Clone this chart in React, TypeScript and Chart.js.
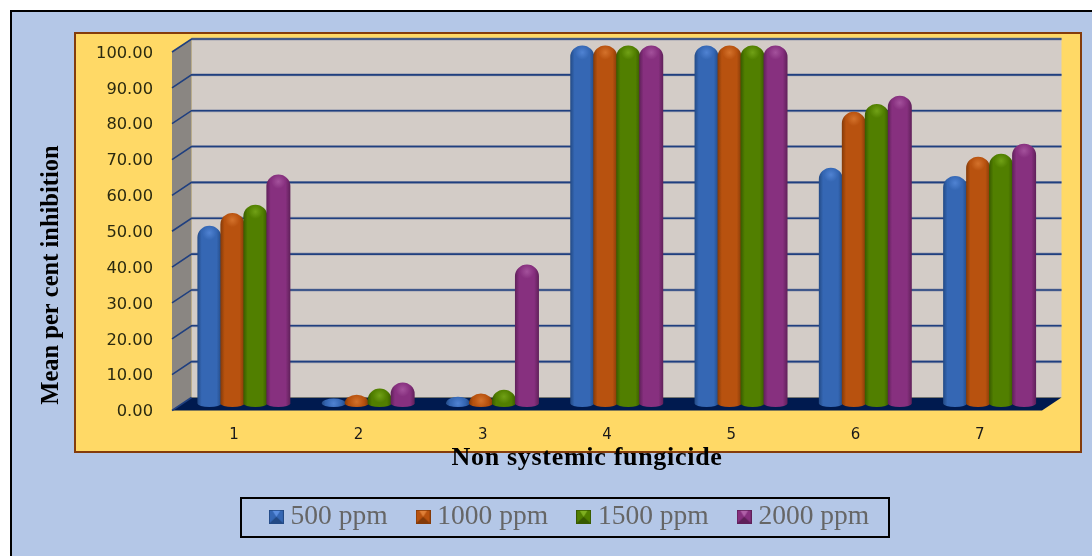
import React, { useEffect, useRef } from "react";
import { Chart, registerables } from "chart.js";

Chart.register(...registerables);

const categories = ["1", "2", "3", "4", "5", "6", "7"];
const seriesNames = ["500 ppm", "1000 ppm", "1500 ppm", "2000 ppm"];
const ppm500 = [49.7, 1.5, 2, 100, 100, 65.9, 63.6];
const ppm1000 = [53.3, 2.6, 2.9, 100, 100, 81.5, 69];
const ppm1500 = [55.6, 4.3, 4, 100, 100, 83.7, 69.8];
const ppm2000 = [64, 6, 38.9, 100, 100, 86, 72.6];
const seriesValues = [ppm500, ppm1000, ppm1500, ppm2000];
const seriesColors = ["#3567B4", "#B8520F", "#517F00", "#87307F"];
const seriesDark = ["#234A85", "#843A08", "#385A00", "#5F2059"];
const seriesLight = ["#5C8FE0", "#E08038", "#7FB020", "#B060A8"];
const yTitle = "Mean per cent inhibition";
const xTitle = "Non systemic fungicide";

const DEPTH_X = 19.5;
const DEPTH_Y = 13;
const SERIF = '"Liberation Serif", serif';

function swatch(i: number) {
  const c = document.createElement("canvas");
  c.width = 15;
  c.height = 14;
  const g = c.getContext("2d")!;
  g.fillStyle = seriesColors[i];
  g.fillRect(0, 0, 15, 14);
  g.fillStyle = seriesDark[i];
  g.beginPath();
  g.moveTo(0, 14);
  g.lineTo(7.5, 7);
  g.lineTo(15, 14);
  g.fill();
  g.fillStyle = seriesLight[i];
  g.beginPath();
  g.moveTo(3, 0);
  g.lineTo(7.5, 7);
  g.lineTo(12, 0);
  g.fill();
  g.strokeStyle = seriesDark[i];
  g.strokeRect(0.5, 0.5, 14, 13);
  return c;
}

const framePlugin = {
  id: "frame3d",
  afterLayout(chart: any) {
    const l = chart.legend;
    if (l) {
      l.left = 200;
      l.right = 945;
      l.top = 468;
      l.bottom = 537;
    }
  },
  beforeDraw(chart: any) {
    const { ctx, width, height } = chart;
    ctx.save();
    ctx.fillStyle = "#FFFFFF";
    ctx.fillRect(0, 0, width, height);
    ctx.fillStyle = "#B4C7E7";
    ctx.fillRect(11, 11, width - 11, height - 11);
    ctx.fillStyle = "#000000";
    ctx.fillRect(10, 10, width - 10, 2);
    ctx.fillRect(10, 10, 2, height - 10);
    // yellow panel
    ctx.fillStyle = "#FFD966";
    ctx.fillRect(75, 33, 1006, 419);
    ctx.strokeStyle = "#843C0C";
    ctx.lineWidth = 2;
    ctx.strokeRect(75, 33, 1006, 419);

    const y = chart.scales.y;
    const x = chart.scales.x;
    const L = x.left, R = x.right;
    const T = y.getPixelForValue(100), B = y.getPixelForValue(0);
    // back wall
    ctx.fillStyle = "#D3CCC7";
    ctx.fillRect(L + DEPTH_X, T - DEPTH_Y, R - L, B - T);
    // side wall
    ctx.fillStyle = "#8A8682";
    ctx.beginPath();
    ctx.moveTo(L, T);
    ctx.lineTo(L + DEPTH_X, T - DEPTH_Y);
    ctx.lineTo(L + DEPTH_X, B - DEPTH_Y);
    ctx.lineTo(L, B);
    ctx.closePath();
    ctx.fill();
    // floor
    ctx.fillStyle = "#001A4F";
    ctx.beginPath();
    ctx.moveTo(L, B);
    ctx.lineTo(L + DEPTH_X, B - DEPTH_Y);
    ctx.lineTo(R + DEPTH_X, B - DEPTH_Y);
    ctx.lineTo(R, B);
    ctx.closePath();
    ctx.fill();
    // grid lines
    for (const t of y.ticks) {
      const p = y.getPixelForValue(t.value);
      if (t.value > 0) {
        ctx.strokeStyle = "rgba(120,130,160,0.55)";
        ctx.lineWidth = 3;
        ctx.beginPath();
        ctx.moveTo(L + DEPTH_X, p - DEPTH_Y);
        ctx.lineTo(R + DEPTH_X, p - DEPTH_Y);
        ctx.stroke();
      }
      ctx.strokeStyle = "#1F3F7F";
      ctx.lineWidth = 1.6;
      ctx.beginPath();
      ctx.moveTo(L, p);
      ctx.lineTo(L + DEPTH_X, p - DEPTH_Y);
      if (t.value > 0) ctx.lineTo(R + DEPTH_X, p - DEPTH_Y);
      ctx.stroke();
    }
    // legend box
    ctx.strokeStyle = "#000000";
    ctx.lineWidth = 2;
    ctx.strokeRect(241, 498, 648, 39);
    ctx.restore();
  },
  afterDatasetsDraw(chart: any) {
    const { ctx } = chart;
    ctx.save();
    ctx.translate(DEPTH_X / 2, -DEPTH_Y / 2);
    chart.data.datasets.forEach((_: any, di: number) => {
      const meta = chart.getDatasetMeta(di);
      meta.data.forEach((el: any) => {
        const { x, y, base, width } = el.getProps(["x", "y", "base", "width"], true);
        const w = width + 1;
        const l = x - w / 2;
        const r = x + w / 2;
        const b = base - 0.5;
        const botRy = 3.5;
        const topRy = Math.min(11.5, Math.max(b - y, 2.5));
        const shoulder = y + topRy;
        ctx.beginPath();
        ctx.moveTo(l, shoulder);
        ctx.ellipse(x, shoulder, w / 2, topRy, 0, Math.PI, 2 * Math.PI);
        ctx.lineTo(r, Math.max(b, shoulder));
        ctx.ellipse(x, Math.max(b, shoulder), w / 2, botRy, 0, 0, Math.PI);
        ctx.closePath();
        const g = ctx.createLinearGradient(l, 0, r, 0);
        g.addColorStop(0, seriesDark[di]);
        g.addColorStop(0.18, seriesColors[di]);
        g.addColorStop(0.8, seriesColors[di]);
        g.addColorStop(1, seriesDark[di]);
        ctx.fillStyle = g;
        ctx.fill();
        // dome highlight
        const hr = w * 0.3;
        const hy = y + Math.min(topRy, 7);
        const rg = ctx.createRadialGradient(x, hy, 0, x, hy, hr);
        rg.addColorStop(0, seriesLight[di] + "B0");
        rg.addColorStop(1, seriesLight[di] + "00");
        ctx.save();
        ctx.clip();
        ctx.fillStyle = rg;
        ctx.fillRect(x - hr, hy - hr, hr * 2, hr * 2);
        ctx.restore();
      });
    });
    ctx.restore();
  },
  afterDraw(chart: any) {
    const { ctx } = chart;
    ctx.save();
    ctx.fillStyle = "#000000";
    ctx.textAlign = "center";
    ctx.textBaseline = "middle";
    ctx.font = `bold 26px ${SERIF}`;
    ctx.letterSpacing = "0.7px";
    ctx.fillText(xTitle, 587, 458);
    ctx.letterSpacing = "0px";
    ctx.font = `bold 24.5px ${SERIF}`;
    ctx.translate(52, 275);
    ctx.rotate(-Math.PI / 2);
    ctx.fillText(yTitle, 0, 0);
    ctx.restore();
  },
};

export default function App() {
  const ref = useRef<HTMLCanvasElement>(null);
  useEffect(() => {
    document.body.style.margin = "0";
    const chart = new Chart(ref.current!, {
      type: "bar",
      data: {
        labels: categories,
        datasets: seriesNames.map((name, i) => ({
          label: name,
          data: seriesValues[i],
          backgroundColor: "rgba(0,0,0,0)",
          borderWidth: 0,
          categoryPercentage: 0.74,
          barPercentage: 1,
        })),
      },
      options: {
        responsive: false,
        animation: false,
        devicePixelRatio: 1,
        layout: { padding: { top: 52, right: 50, bottom: 23, left: 0 } },
        plugins: {
          tooltip: { enabled: false },
          legend: {
            position: "bottom",
            labels: {
              color: "#666666",
              font: { family: SERIF, size: 27.5 },
              usePointStyle: true,
              boxWidth: 1,
              padding: 35,
              generateLabels: () =>
                seriesNames.map((name, i) => ({
                  text: name,
                  fontColor: "#666666",
                  pointStyle: swatch(i),
                  datasetIndex: i,
                  lineWidth: 0,
                })),
            },
          },
        },
        scales: {
          x: {
            grid: { display: false, drawTicks: false },
            border: { display: false },
            ticks: {
              color: "#1A1A1A",
              font: { family: '"DejaVu Sans"', size: 15 },
              padding: 16,
            },
          },
          y: {
            min: 0,
            max: 100,
            afterFit: (s: any) => {
              s.width = 172;
            },
            grid: { display: false, drawTicks: false },
            border: { display: false },
            ticks: {
              stepSize: 10,
              color: "#2B2A10",
              padding: 19,
              labelOffset: 1.5,
              font: { family: '"DejaVu Sans"', size: 16.3 },
              callback: (v: any) => Number(v).toFixed(2),
            },
          },
        },
      } as any,
      plugins: [framePlugin],
    });
    return () => chart.destroy();
  }, []);
  return (
    <canvas
      ref={ref}
      width={1092}
      height={556}
      style={{ display: "block", width: 1092, height: 556 }}
    />
  );
}
